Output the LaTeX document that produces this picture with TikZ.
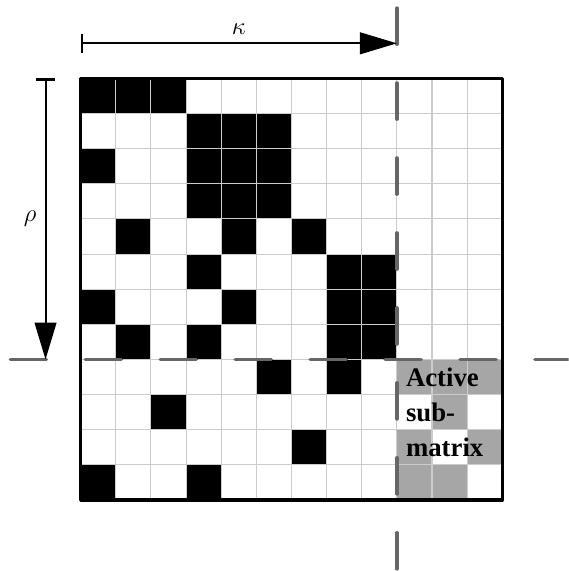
\documentclass[tikz,border=0pt]{standalone}
\usepackage{fontspec}
\newfontfamily\boldserif{Liberation Serif}
\usetikzlibrary{arrows.meta}
\definecolor{gridgray}{gray}{0.8}
\definecolor{activegray}{gray}{0.65}
\definecolor{dashgray}{gray}{0.4}
\tikzset{
  blackcell/.style={fill=black},
  activecell/.style={fill=activegray},
  gridline/.style={draw=gridgray, line width=0.5pt},
  borderline/.style={draw=black, line width=1.6pt, line join=round},
  cutline/.style={draw=dashgray, line width=1.8pt, line cap=round, dash pattern=on 0.614cm off 0.666cm},
  dimarrow/.style={draw=black, line width=1pt, {Bar[width=0.32cm]}-{Triangle[length=0.63cm, width=0.37cm]}},
  dimlabel/.style={font=\fontsize{12}{14}\selectfont, inner sep=4pt},
  activetext/.style={font=\boldserif\bfseries\fontsize{13}{15}\selectfont, anchor=base west, inner sep=0pt}
}
\begin{document}
\begin{tikzpicture}[x=0.6cm, y=0.6cm]
\clip (-2.296,2.233) rectangle (13.89,-14.02);
% black cells: row/columns
\foreach \r/\cols in {0/{0,1,2}, 1/{3,4,5}, 2/{0,3,4,5}, 3/{3,4,5}, 4/{1,4,6}, 5/{3,7,8}, 6/{0,4,7,8}, 7/{1,3,7,8}, 8/{5,7}, 9/{2}, 10/{6}, 11/{0,3}}{
  \foreach \c in \cols {
    \fill[blackcell] (\c,-\r) rectangle ++(1,-1);
  }
}
% active submatrix gray cells
\foreach \c/\r in {9/8, 10/8, 11/8, 10/9, 9/10, 11/10, 9/11, 10/11}{
  \fill[activecell] (\c,-\r) rectangle ++(1,-1);
}
% grid
\foreach \i in {1,...,11}{
  \draw[gridline] (\i,0) -- (\i,-12);
  \draw[gridline] (0,-\i) -- (12,-\i);
}
% border
\node[draw=none, inner sep=0pt, minimum size=0pt] (tl) at (0,0) {};
\node[draw=none, inner sep=0pt, minimum size=0pt] (br) at (12,-12) {};
\draw[borderline] (tl.center) rectangle (br.center);
% cut lines
\coordinate (hstart) at (-2,-8);
\coordinate (hend) at (14.5,-8);
\coordinate (vstart) at (9,2);
\coordinate (vend) at (9,-14.5);
\draw[cutline] (hstart) -- (hend);
\draw[cutline] (vstart) -- (vend);
% dimension arrows
\coordinate (k0) at (0,1);
\coordinate (k1) at (9,1);
\draw[dimarrow] (k0) -- node[dimlabel, above] (kappa) {$\kappa$} (k1);
\coordinate (r0) at (-1,0);
\coordinate (r1) at (-1,-8);
\draw[dimarrow] (r0) -- node[dimlabel, left] (rho) {$\rho$} (r1);
% label
\node[activetext] (t1) at (9.25,-8.77) {Active};
\node[activetext] (t2) at (9.25,-9.77) {sub-};
\node[activetext] (t3) at (9.25,-10.77) {matrix};
\end{tikzpicture}
\end{document}
